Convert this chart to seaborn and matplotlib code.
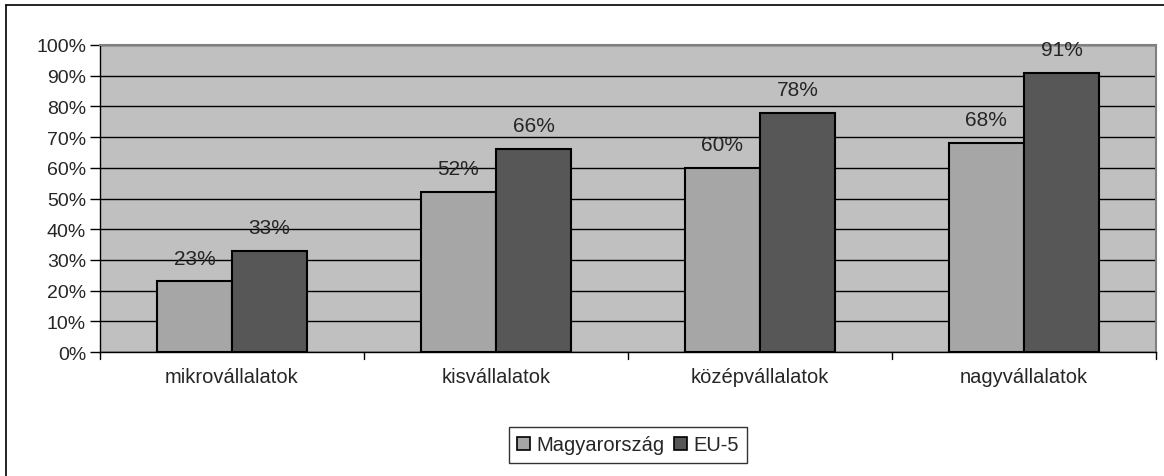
import pandas as pd
import matplotlib.pyplot as plt
import seaborn as sns
from matplotlib.lines import Line2D
from matplotlib.patches import Patch

# data
categories = ['mikrovállalatok', 'kisvállalatok', 'középvállalatok', 'nagyvállalatok']
series_names = ['Magyarország', 'EU-5']
hu_values = [23, 52, 60, 68]
eu_values = [33, 66, 78, 91]
y_ticks = [0, 10, 20, 30, 40, 50, 60, 70, 80, 90, 100]

df = pd.DataFrame({
    'category': categories * 2,
    'series': [series_names[0]] * 4 + [series_names[1]] * 4,
    'value': hu_values + eu_values,
})

sns.set_style('white')
plt.rcParams['font.family'] = ['Liberation Sans', 'DejaVu Sans']
plt.rcParams['font.size'] = 14

colors = ['#A6A6A6', '#575757']

fig = plt.figure(figsize=(11.64, 4.77), dpi=100)
ax = fig.add_axes([100 / 1164, 124 / 477, 1056 / 1164, 307 / 477])
ax.set_facecolor('#C0C0C0')

sns.barplot(data=df, x='category', y='value', hue='series', order=categories,
            hue_order=series_names, palette=colors, width=0.57,
            edgecolor='black', linewidth=1.5, saturation=1, ax=ax, legend=False, zorder=3)

for cont in ax.containers:
    ax.bar_label(cont, fmt='%d%%', padding=10, fontsize=15)

ax.set_ylim(0, 100)
ax.set_xlim(-0.5, len(categories) - 0.5)
ax.set_yticks(y_ticks)
ax.set_yticklabels([f'{t}%' for t in y_ticks], fontsize=14)
ax.yaxis.grid(True, color='black', linewidth=1, zorder=1)
ax.set_axisbelow(True)

# category ticks sit between the groups
ax.set_xticks(range(len(categories)))
ax.set_xticklabels(categories, fontsize=14.5)
ax.tick_params(axis='x', length=0, pad=11)
for b in [i - 0.5 for i in range(len(categories) + 1)]:
    ax.plot([b, b], [0, -2.3], color='black', lw=1, clip_on=False)
ax.tick_params(axis='y', length=7, width=1, color='black', pad=3, direction='out', left=True)
ax.set_xlabel('')
ax.set_ylabel('')

for side in ['left', 'bottom']:
    ax.spines[side].set_color('black')
    ax.spines[side].set_linewidth(1)
for side in ['top', 'right']:
    ax.spines[side].set_color('#808080')
    ax.spines[side].set_linewidth(1.5)

handles = [Patch(facecolor=c, edgecolor='black', linewidth=1.2) for c in colors]
leg = fig.legend(handles, series_names, loc='center', bbox_to_anchor=(628 / 1164, 1 - 446 / 477),
                 ncol=2, frameon=True, fancybox=False, handlelength=0.65, handleheight=0.65,
                 handletextpad=0.3, columnspacing=0.5, borderpad=0.4, fontsize=14.5)
leg.get_frame().set_edgecolor('black')
leg.get_frame().set_linewidth(1)

# outer chart frame (only left and top edges fall inside the image)
fig.add_artist(Line2D([5.5 / 1164, 5.5 / 1164], [0, 1 - 6 / 477], color='black', lw=1.2))
fig.add_artist(Line2D([5.5 / 1164, 1], [1 - 6 / 477, 1 - 6 / 477], color='black', lw=1.2))

fig.savefig('out.png', dpi=100)
